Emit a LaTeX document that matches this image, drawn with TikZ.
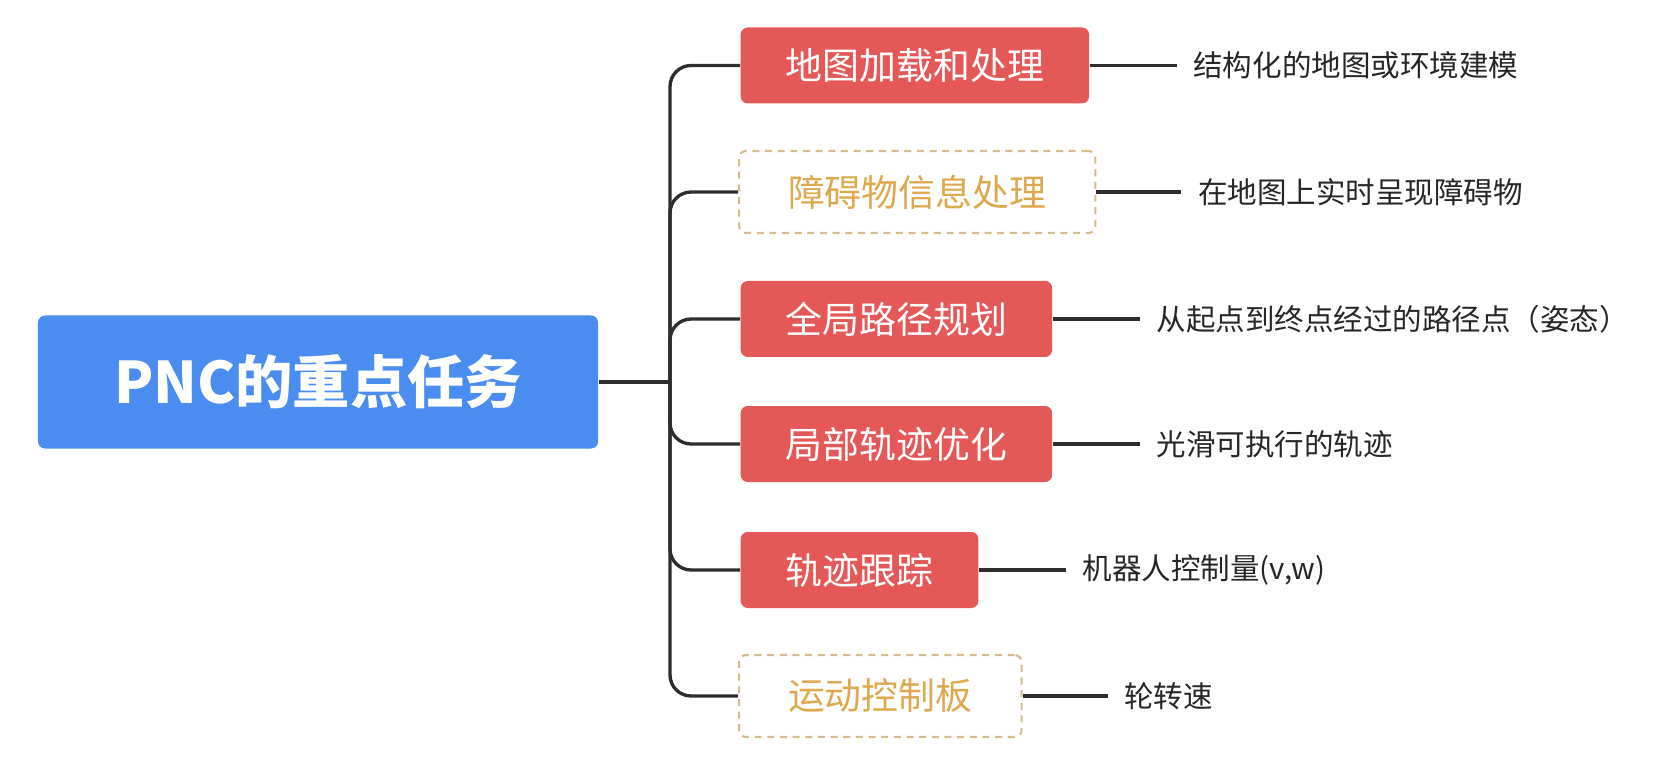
\documentclass[tikz,border=0pt]{standalone}
\usepackage{fontspec}
\newfontfamily\cjk{Noto Sans CJK SC}
\usepackage{xcolor}
\definecolor{rootblue}{RGB}{74,140,240}
\definecolor{taskred}{RGB}{229,88,88}
\definecolor{softgold}{RGB}{222,168,78}
\definecolor{dashtan}{RGB}{214,188,140}
\definecolor{linegray}{RGB}{45,45,45}
\usetikzlibrary{positioning}
\tikzset{
  rootbox/.style={fill=rootblue, text=white, rounded corners=2pt,
                  minimum width=5.6cm, minimum height=1.33cm,
                  font=\cjk\bfseries\fontsize{16.3}{19}\selectfont},
  taskbox/.style={fill=taskred, text=white, rounded corners=2pt,
                  anchor=west, inner xsep=0.45cm, minimum height=0.76cm,
                  font=\cjk\fontsize{10.5}{12}\selectfont},
  optbox/.style={draw=dashtan, dash pattern=on 2pt off 1.6pt,
                 line width=0.6pt, text=softgold, rounded corners=2pt,
                 anchor=west, inner xsep=0.49cm, minimum height=0.82cm,
                 font=\cjk\fontsize{10.5}{12}\selectfont},
  desc/.style={text=black!85, inner xsep=0.16cm,
               font=\cjk\fontsize{8.4}{10}\selectfont},
  link/.style={draw=linegray, line width=0.95pt, rounded corners=6pt},
}

\begin{document}
\begin{tikzpicture}
  \useasboundingbox (0,0) rectangle (16.58,7.59);

  % Root
  \node[rootbox] (root) at (3.18,3.77) {PNC的重点任务};
  \coordinate (trunk) at (6.70,3.77);

  % Tasks
  \node[taskbox] (t1) at (7.40,6.935) {地图加载和处理};
  \node[optbox]  (t2) at (7.38,5.67)  {障碍物信息处理};
  \node[taskbox] (t3) at (7.40,4.40)  {全局路径规划};
  \node[taskbox] (t4) at (7.40,3.15)  {局部轨迹优化};
  \node[taskbox] (t5) at (7.40,1.89)  {轨迹跟踪};
  \node[optbox]  (t6) at (7.38,0.63)  {运动控制板};

  % Outputs
  \node[desc, right=0.87cm of t1] (d1) {结构化的地图或环境建模};
  \node[desc, right=0.85cm of t2] (d2) {在地图上实时呈现障碍物};
  \node[desc, right=0.87cm of t3] (d3) {从起点到终点经过的路径点（姿态）};
  \node[desc, right=0.87cm of t4] (d4) {光滑可执行的轨迹};
  \node[desc, right=0.87cm of t5] (d5) {机器人控制量(v,w)};
  \node[desc, right=0.85cm of t6] (d6) {轮转速};

  % Connectors
  \draw[link] (root.east) -- (trunk);
  \foreach \i in {1,...,6}{
    \draw[link] (trunk) |- (t\i.west);
    \draw[link] (t\i.east) -- (d\i.west);
  }
\end{tikzpicture}
\end{document}
